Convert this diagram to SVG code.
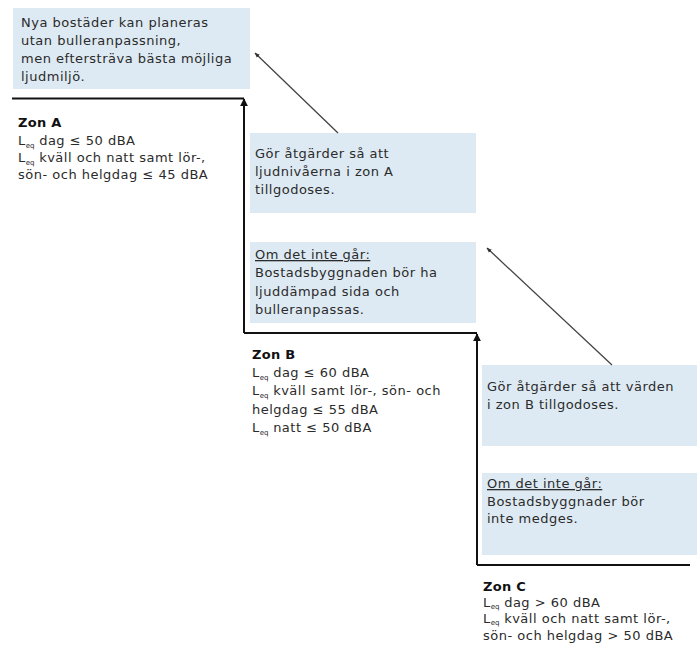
<svg xmlns="http://www.w3.org/2000/svg" width="697" height="655" viewBox="0 0 697 655">
<style>
  .box { fill: #deeaf3; }
  .t { font-family: "DejaVu Sans", "Liberation Sans", sans-serif; font-size: 13px; letter-spacing: 0.5px; fill: #2b2b2b; }
  .h { font-weight: bold; fill: #111; letter-spacing: 0.3px; }
  .sub { font-size: 7px; letter-spacing: 0; }
  .u { text-decoration: underline; }
  .step { fill: none; stroke: #111; stroke-width: 2; }
  .diag { fill: none; stroke: #444; stroke-width: 1.3; }
</style>
<defs>
  <marker id="ah" viewBox="0 0 10 10" refX="9" refY="5" markerWidth="4" markerHeight="4" orient="auto" markerUnits="strokeWidth">
    <path d="M0,0 L10,5 L0,10 Z" fill="#111"/>
  </marker>
  <marker id="ad" viewBox="0 0 10 10" refX="9" refY="5" markerWidth="4" markerHeight="4" orient="auto" markerUnits="strokeWidth">
    <path d="M0,1 L10,5 L0,9 Z" fill="#333"/>
  </marker>
</defs>
<rect width="697" height="655" fill="#ffffff"/>

<g id="box-a-info">
  <rect class="box" x="13" y="8" width="237" height="81"/>
  <text class="t" x="21" y="27">Nya bostäder kan planeras</text>
  <text class="t" x="21" y="45">utan bulleranpassning,</text>
  <text class="t" x="21" y="63">men eftersträva bästa möjliga</text>
  <text class="t" x="21" y="81">ljudmiljö.</text>
</g>

<g id="zon-a">
  <text class="t h" x="18" y="127">Zon A</text>
  <text class="t" x="18" y="145">L<tspan class="sub" dy="2.5">eq</tspan><tspan dy="-2.5"> dag ≤ 50 dBA</tspan></text>
  <text class="t" x="18" y="162">L<tspan class="sub" dy="2.5">eq</tspan><tspan dy="-2.5"> kväll och natt samt lör-,</tspan></text>
  <text class="t" x="18" y="179">sön- och helgdag ≤ 45 dBA</text>
</g>

<g id="box-b-action">
  <rect class="box" x="250" y="133" width="226" height="80"/>
  <text class="t" x="255" y="158">Gör åtgärder så att</text>
  <text class="t" x="255" y="176">ljudnivåerna i zon A</text>
  <text class="t" x="255" y="194">tillgodoses.</text>
</g>

<g id="box-b-fallback">
  <rect class="box" x="250" y="242" width="226" height="81"/>
  <text class="t u" x="255" y="259">Om det inte går:</text>
  <text class="t" x="255" y="277">Bostadsbyggnaden bör ha</text>
  <text class="t" x="255" y="296">ljuddämpad sida och</text>
  <text class="t" x="255" y="314">bulleranpassas.</text>
</g>

<g id="zon-b">
  <text class="t h" x="252" y="359">Zon B</text>
  <text class="t" x="252" y="377">L<tspan class="sub" dy="2.5">eq</tspan><tspan dy="-2.5"> dag ≤ 60 dBA</tspan></text>
  <text class="t" x="252" y="395">L<tspan class="sub" dy="2.5">eq</tspan><tspan dy="-2.5"> kväll samt lör-, sön- och</tspan></text>
  <text class="t" x="252" y="414">helgdag ≤ 55 dBA</text>
  <text class="t" x="252" y="432">L<tspan class="sub" dy="2.5">eq</tspan><tspan dy="-2.5"> natt ≤ 50 dBA</tspan></text>
</g>

<g id="box-c-action">
  <rect class="box" x="482" y="365" width="215" height="81"/>
  <text class="t" x="487" y="391">Gör åtgärder så att värden</text>
  <text class="t" x="487" y="409">i zon B tillgodoses.</text>
</g>

<g id="box-c-fallback">
  <rect class="box" x="482" y="473" width="215" height="82"/>
  <text class="t u" x="487" y="488">Om det inte går:</text>
  <text class="t" x="487" y="506">Bostadsbyggnader bör</text>
  <text class="t" x="487" y="523">inte medges.</text>
</g>

<g id="zon-c">
  <text class="t h" x="483" y="591">Zon C</text>
  <text class="t" x="483" y="607">L<tspan class="sub" dy="2">eq</tspan><tspan dy="-2"> dag &gt; 60 dBA</tspan></text>
  <text class="t" x="483" y="623">L<tspan class="sub" dy="2">eq</tspan><tspan dy="-2"> kväll och natt samt lör-,</tspan></text>
  <text class="t" x="483" y="640">sön- och helgdag &gt; 50 dBA</text>
</g>

<g id="connectors">
  <path class="step" d="M12,98.5 H244"/>
  <path class="step" d="M244,333 V99" marker-end="url(#ah)"/>
  <path class="step" d="M244,333 H477"/>
  <path class="step" d="M477,565 V334" marker-end="url(#ah)"/>
  <path class="step" d="M477,565 H690"/>
  <path class="diag" d="M338,133 L255,53" marker-end="url(#ad)"/>
  <path class="diag" d="M612,365 L487,248" marker-end="url(#ad)"/>
</g>
</svg>
